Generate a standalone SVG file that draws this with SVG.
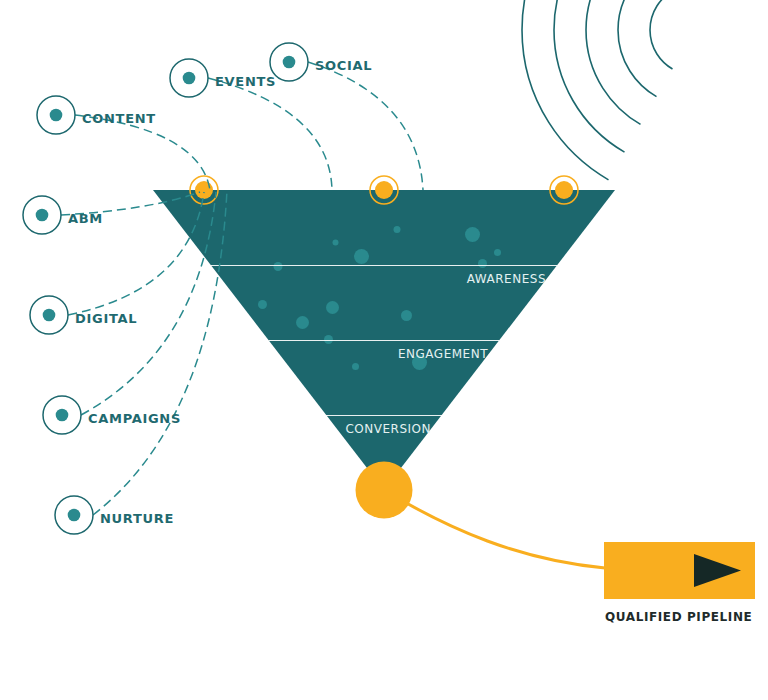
<svg xmlns="http://www.w3.org/2000/svg" width="768" height="700" viewBox="0 0 768 700">
  <style>
    .arc { fill: none; stroke: #1c676d; stroke-width: 1.6; }
    .band { stroke: #ffffff; stroke-width: 1; opacity: 0.9; }
    .bubble { fill: #2a8a8e; }
    .stage { font-family: "DejaVu Sans", sans-serif; font-size: 12px; letter-spacing: 0.5px; fill: #e4f1f1; text-anchor: end; }
    .ring { fill: #ffffff; stroke: #1c676d; stroke-width: 1.5; }
    .core { fill: #2a8a8e; }
    .lbl { font-family: "DejaVu Sans", sans-serif; font-size: 13px; font-weight: bold; letter-spacing: 0.7px; fill: #1f6a70; }
    .onode-ring { fill: none; stroke: #f9ae1f; stroke-width: 1.5; }
    .onode { fill: #f9ae1f; }
    .conn { fill: none; stroke: #2a8a8e; stroke-width: 1.5; stroke-dasharray: 9 5; }
  </style>

  <g id="signal">
    <path class="arc" d="M 672.5 68.97 A 45 45 0 0 1 672.5 -8.97"/>
    <path class="arc" d="M 656.5 96.68 A 77 77 0 0 1 656.5 -36.68"/>
    <path class="arc" d="M 640.5 124.39 A 109 109 0 0 1 640.5 -64.39"/>
    <path class="arc" d="M 624.5 152.11 A 141 141 0 0 1 624.5 -92.11"/>
    <path class="arc" d="M 608.5 179.82 A 173 173 0 0 1 608.5 -119.82"/>
  </g>

  <g id="funnel">
    <polygon points="153,190 615,190 384,490" fill="#1c676d"/>
    <circle class="bubble" cx="397" cy="229.5" r="3.5"/>
    <circle class="bubble" cx="335.5" cy="242.5" r="3"/>
    <circle class="bubble" cx="472.5" cy="234.5" r="7.5"/>
    <circle class="bubble" cx="497.5" cy="252.5" r="3.5"/>
    <circle class="bubble" cx="361.5" cy="256.5" r="7.5"/>
    <circle class="bubble" cx="278" cy="266.5" r="4.5"/>
    <circle class="bubble" cx="482.5" cy="263.5" r="4.5"/>
    <circle class="bubble" cx="262.5" cy="304.5" r="4.5"/>
    <circle class="bubble" cx="332.5" cy="307.5" r="6.5"/>
    <circle class="bubble" cx="302.5" cy="322.5" r="6.5"/>
    <circle class="bubble" cx="406.5" cy="315.5" r="5.5"/>
    <circle class="bubble" cx="328.5" cy="339.5" r="4.5"/>
    <circle class="bubble" cx="355.5" cy="366.5" r="3.5"/>
    <circle class="bubble" cx="419.5" cy="362.5" r="7.5"/>
    <line class="band" x1="211" y1="265.5" x2="557" y2="265.5"/>
    <line class="band" x1="268.5" y1="340.5" x2="499.5" y2="340.5"/>
    <line class="band" x1="326" y1="415.5" x2="442" y2="415.5"/>
    <text class="stage" x="546" y="283">AWARENESS</text>
    <text class="stage" x="488" y="358">ENGAGEMENT</text>
    <text class="stage" x="431" y="433">CONVERSION</text>
  </g>

  <g id="entry-left">
    <circle class="onode-ring" cx="204" cy="190" r="14"/>
    <circle class="onode" cx="204" cy="190" r="9"/>
  </g>
  <g id="entry-mid">
    <circle class="onode-ring" cx="384" cy="190" r="14"/>
    <circle class="onode" cx="384" cy="190" r="9"/>
  </g>
  <g id="entry-right">
    <circle class="onode-ring" cx="564" cy="190" r="14"/>
    <circle class="onode" cx="564" cy="190" r="9"/>
  </g>

  <g id="connectors">
    <path class="conn" d="M 75 115 Q 200 130 210 190"/>
    <path class="conn" d="M 208 78 Q 330 110 332 190"/>
    <path class="conn" d="M 308 62 Q 418 97 423 190"/>
    <path class="conn" d="M 61 215 Q 150 210 200 192"/>
    <path class="conn" d="M 68 315 Q 190 290 204 192"/>
    <path class="conn" d="M 81 415 Q 200 350 216 192"/>
    <path class="conn" d="M 93 515 Q 215 420 227 190"/>
    <path d="M 384 490 C 450 530 520 560 605 568" fill="none" stroke="#f9ae1f" stroke-width="3"/>
  </g>

  <g id="content">
    <circle class="ring" cx="56" cy="115" r="19"/>
    <circle class="core" cx="56" cy="115" r="6.3"/>
    <text class="lbl" x="82" y="123">CONTENT</text>
  </g>
  <g id="events">
    <circle class="ring" cx="189" cy="78" r="19"/>
    <circle class="core" cx="189" cy="78" r="6.3"/>
    <text class="lbl" x="215" y="86">EVENTS</text>
  </g>
  <g id="social">
    <circle class="ring" cx="289" cy="62" r="19"/>
    <circle class="core" cx="289" cy="62" r="6.3"/>
    <text class="lbl" x="315" y="70">SOCIAL</text>
  </g>
  <g id="abm">
    <circle class="ring" cx="42" cy="215" r="19"/>
    <circle class="core" cx="42" cy="215" r="6.3"/>
    <text class="lbl" x="68" y="223">ABM</text>
  </g>
  <g id="digital">
    <circle class="ring" cx="49" cy="315" r="19"/>
    <circle class="core" cx="49" cy="315" r="6.3"/>
    <text class="lbl" x="75" y="323">DIGITAL</text>
  </g>
  <g id="campaigns">
    <circle class="ring" cx="62" cy="415" r="19"/>
    <circle class="core" cx="62" cy="415" r="6.3"/>
    <text class="lbl" x="88" y="423">CAMPAIGNS</text>
  </g>
  <g id="nurture">
    <circle class="ring" cx="74" cy="515" r="19"/>
    <circle class="core" cx="74" cy="515" r="6.3"/>
    <text class="lbl" x="100" y="523">NURTURE</text>
  </g>

  <g id="funnel-output">
    <circle cx="384" cy="490" r="28.5" fill="#f9ae1f"/>
  </g>

  <g id="qualified-pipeline">
    <rect x="604" y="542" width="151" height="57" fill="#f9ae1f"/>
    <polygon points="694,554 694,587 741,570.5" fill="#152826"/>
    <text x="605" y="621" font-family="DejaVu Sans, sans-serif" font-size="12" font-weight="bold" letter-spacing="0.6" fill="#1e2b2b">QUALIFIED PIPELINE</text>
  </g>
</svg>
